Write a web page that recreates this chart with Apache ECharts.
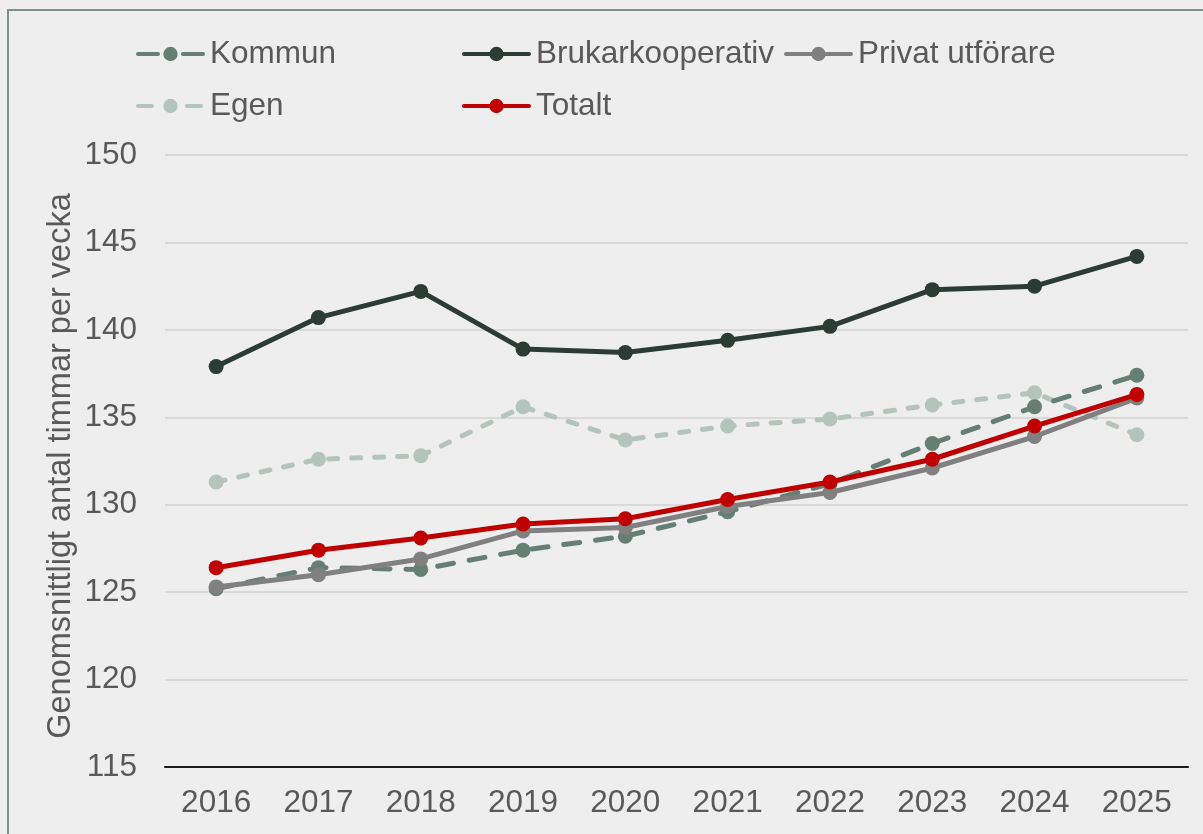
<!DOCTYPE html>
<html>
<head>
<meta charset="utf-8">
<script src="https://cdn.jsdelivr.net/npm/echarts@6/dist/echarts.min.js"></script>
<style>
	html, body { margin: 0; padding: 0; background: #eeeeee; }
	#chart { width: 1203px; height: 834px; }
</style>
</head>
<body>
<div id="chart"></div>
<script>
	const years = ["2016", "2017", "2018", "2019", "2020", "2021", "2022", "2023", "2024", "2025"];
	const kommun = [125.2, 126.4, 126.3, 127.4, 128.2, 129.6, 131.2, 133.5, 135.6, 137.4];
	const brukarkooperativ = [137.9, 140.7, 142.2, 138.9, 138.7, 139.4, 140.2, 142.3, 142.5, 144.2];
	const privat = [125.3, 126.0, 126.9, 128.5, 128.7, 129.9, 130.7, 132.1, 133.9, 136.1];
	const egen = [131.3, 132.6, 132.8, 135.6, 133.7, 134.5, 134.9, 135.7, 136.4, 134.0];
	const totalt = [126.4, 127.4, 128.1, 128.9, 129.2, 130.3, 131.3, 132.6, 134.5, 136.3];
	const yTicks = { min: 115, max: 150, interval: 5 };
	const yTitle = "Genomsnittligt antal timmar per vecka";

	const FONT = "Liberation Sans, Arial, sans-serif";
	const SIZE = 31.5;
	const TEXT = "#595959";

	function line(name, data, color, dash, z) {
		return {
			name: name,
			type: "line",
			data: data,
			z: z,
			symbol: "circle",
			symbolSize: 15,
			itemStyle: { color: color },
			lineStyle: { color: color, width: 5, type: dash || "solid", cap: "round" },
			emphasis: { disabled: true },
		};
	}

	// 每个图例项单独放置，对齐成两行三列
	function legendAt(name, left, top, dash) {
		return {
			data: [name],
			left: left,
			top: top,
			itemWidth: 65,
			itemHeight: 18,
			lineStyle: { width: 4, type: dash || "solid", cap: "round" },
			textStyle: { fontFamily: FONT, fontSize: SIZE, color: TEXT, padding: [0, 0, 0, 2] },
		};
	}

	const chart = echarts.init(document.getElementById("chart"));
	chart.setOption({
		backgroundColor: "#eeeeee",
		animation: false,
		graphic: [{
			type: "rect",
			shape: { x: 8, y: 10, width: 1300, height: 900 },
			style: { fill: "none", stroke: "#7d9188", lineWidth: 2 },
			silent: true,
		}, {
			type: "text",
			x: 61,
			y: 466,
			rotation: Math.PI / 2,
			style: {
				text: yTitle,
				font: "32.5px " + FONT,
				fill: TEXT,
				align: "center",
				verticalAlign: "middle",
			},
			silent: true,
		}],
		legend: [
			legendAt("Kommun", 131, 33, [20, 25]),
			legendAt("Brukarkooperativ", 457, 33),
			legendAt("Privat utförare", 779, 33),
			legendAt("Egen", 131, 85, [14, 35]),
			legendAt("Totalt", 457, 85),
		],
		grid: { left: 165, right: 15, top: 155, bottom: 67, containLabel: false },
		xAxis: {
			type: "category",
			data: years,
			boundaryGap: true,
			axisLine: { lineStyle: { color: "#1a1a1a", width: 2 } },
			axisTick: { show: false },
			axisLabel: { fontFamily: FONT, fontSize: SIZE, color: TEXT, margin: 20 },
		},
		yAxis: {
			type: "value",
			min: yTicks.min,
			max: yTicks.max,
			interval: yTicks.interval,
			axisLine: { show: false },
			axisTick: { show: false },
			axisLabel: { fontFamily: FONT, fontSize: SIZE, color: TEXT, margin: 28 },
			splitLine: { lineStyle: { color: "#d9d9d9", width: 2 } },
		},
		series: [
			line("Kommun", kommun, "#667f74", [16, 16], 3),
			line("Brukarkooperativ", brukarkooperativ, "#2b3c35", null, 4),
			line("Privat utförare", privat, "#808080", null, 5),
			line("Egen", egen, "#b3c4bb", [9, 14], 2),
			line("Totalt", totalt, "#c00000", null, 6),
		],
	});
</script>
</body>
</html>
